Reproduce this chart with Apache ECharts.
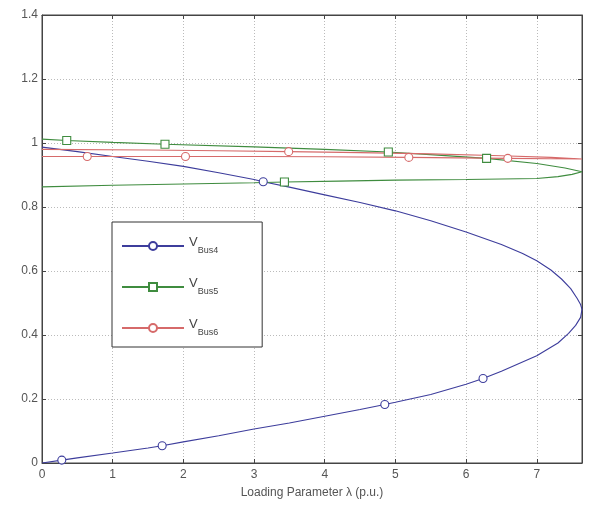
<!DOCTYPE html>
<html>
<head>
<meta charset="utf-8">
<script src="https://cdn.jsdelivr.net/npm/echarts@6/dist/echarts.min.js"></script>
<style>
  html, body { margin: 0; padding: 0; background: #fff; }
  #chart { width: 592px; height: 510px; }
</style>
</head>
<body>
<div id="chart"></div>
<script>
// nose curves, upper branch then lower branch back to lambda = 0
const bus4 = [
  [0, 0.987], [0.5, 0.973], [1, 0.958], [1.5, 0.943], [2, 0.927], [2.5, 0.907],
  [3, 0.886], [3.13, 0.879], [3.5, 0.862], [4, 0.838], [4.5, 0.814], [5, 0.788],
  [5.5, 0.757], [6, 0.722], [6.5, 0.683], [6.8, 0.655], [7, 0.632], [7.2, 0.603],
  [7.35, 0.575], [7.48, 0.545], [7.57, 0.515], [7.62, 0.495], [7.64, 0.48],
  [7.62, 0.455], [7.55, 0.43], [7.45, 0.405], [7.3, 0.375], [7, 0.335], [6.5, 0.287],
  [6.24, 0.264], [6, 0.246], [5.5, 0.214], [5, 0.19], [4.85, 0.183], [4.5, 0.167],
  [4, 0.146], [3.5, 0.125], [3, 0.106], [2.5, 0.085], [2, 0.066], [1.7, 0.054],
  [1.5, 0.047], [1, 0.031], [0.5, 0.016], [0.28, 0.009], [0, 0]
];
const bus5 = [
  [0, 1.012], [0.35, 1.008], [1, 1.002], [1.74, 0.996], [3, 0.988], [4, 0.98], [4.9, 0.972],
  [5.6, 0.962], [6.29, 0.952], [7, 0.936], [7.4, 0.922], [7.64, 0.91],
  [7.5, 0.902], [7.3, 0.895], [7, 0.889], [6, 0.886], [5, 0.884], [4.2, 0.881], [3.43, 0.878],
  [3, 0.876], [2, 0.872], [1, 0.868], [0, 0.863]
];
const bus6 = [
  [0, 0.958], [0.64, 0.958], [2.03, 0.958], [3, 0.958], [4, 0.957], [5.19, 0.955],
  [6.59, 0.952], [7.2, 0.951], [7.64, 0.95],
  [7.2, 0.955], [6.5, 0.96], [5.5, 0.966], [4.5, 0.97], [3.49, 0.973], [2.5, 0.976],
  [1.5, 0.978], [0, 0.98]
];
// which points carry a marker
const marks4 = [7, 29, 33, 40, 44];
const marks5 = [1, 3, 6, 8, 18];
const marks6 = [1, 2, 5, 6, 13];

const names = ['Bus4', 'Bus5', 'Bus6'];
const colors = ['#3d3d9c', '#3f8c3f', '#d66a6a'];

const chart = echarts.init(document.getElementById('chart'));

function makeSeries(name, data, marks, symbol, color) {
  return {
    name: name,
    type: 'line',
    data: data,
    symbol: symbol,
    symbolSize: (v, p) => (marks.indexOf(p.dataIndex) >= 0 ? 8 : 0),
    showAllSymbol: true,
    lineStyle: { color: color, width: 1.1 },
    itemStyle: { color: '#fff', borderColor: color, borderWidth: 1.1 },
    emphasis: { disabled: true },
    z: 3,
  };
}

const option = {
  animation: false,
  textStyle: { fontFamily: 'Liberation Sans, Arial, sans-serif' },
  grid: {
    left: 42, right: 10, top: 15, bottom: 47,
    show: true, borderColor: '#444', borderWidth: 1,
  },
  legend: {
    orient: 'vertical',
    left: 112, top: 222,
    padding: [14, 44, 10, 9],
    itemGap: 22,
    itemWidth: 62,
    itemHeight: 10,
    backgroundColor: '#fff',
    borderColor: '#333',
    borderWidth: 1,
    data: names,
    formatter: n => '{v|V}{s|' + n + '}',
    textStyle: {
      rich: {
        v: { fontSize: 13, color: '#444', padding: [0, 0, 7, 0] },
        s: { fontSize: 9, color: '#444', padding: [9, 0, 0, 0] },
      },
    },
  },
  xAxis: [
    {
      type: 'value', min: 0, max: 7.64, interval: 1,
      name: 'Loading Parameter λ (p.u.)',
      nameLocation: 'middle', nameGap: 24,
      nameTextStyle: { color: '#555', fontSize: 12 },
      axisLine: { onZero: false, lineStyle: { color: '#444' } },
      axisTick: { inside: true, length: 4, lineStyle: { color: '#444' } },
      axisLabel: { color: '#555', fontSize: 12, margin: 6, showMaxLabel: false },
      splitLine: { lineStyle: { color: '#bbb', type: [1, 2] } },
    },
    {
      type: 'value', min: 0, max: 7.64, interval: 1, position: 'top',
      axisLine: { onZero: false, lineStyle: { color: '#444' } },
      axisTick: { inside: true, length: 4, lineStyle: { color: '#444' } },
      axisLabel: { show: false },
      splitLine: { show: false },
    },
  ],
  yAxis: [
    {
      type: 'value', min: 0, max: 1.4, interval: 0.2,
      axisLine: { show: true, onZero: false, lineStyle: { color: '#444' } },
      axisTick: { show: true, inside: true, length: 4, lineStyle: { color: '#444' } },
      axisLabel: { color: '#555', fontSize: 12, margin: 4 },
      splitLine: { lineStyle: { color: '#bbb', type: [1, 2] } },
    },
    {
      type: 'value', min: 0, max: 1.4, interval: 0.2, position: 'right',
      axisLine: { show: true, onZero: false, lineStyle: { color: '#444' } },
      axisTick: { show: true, inside: true, length: 4, lineStyle: { color: '#444' } },
      axisLabel: { show: false },
      splitLine: { show: false },
    },
  ],
  series: [
    makeSeries(names[0], bus4, marks4, 'circle', colors[0]),
    makeSeries(names[1], bus5, marks5, 'rect', colors[1]),
    makeSeries(names[2], bus6, marks6, 'circle', colors[2]),
  ],
};

chart.setOption(option);
</script>
</body>
</html>
